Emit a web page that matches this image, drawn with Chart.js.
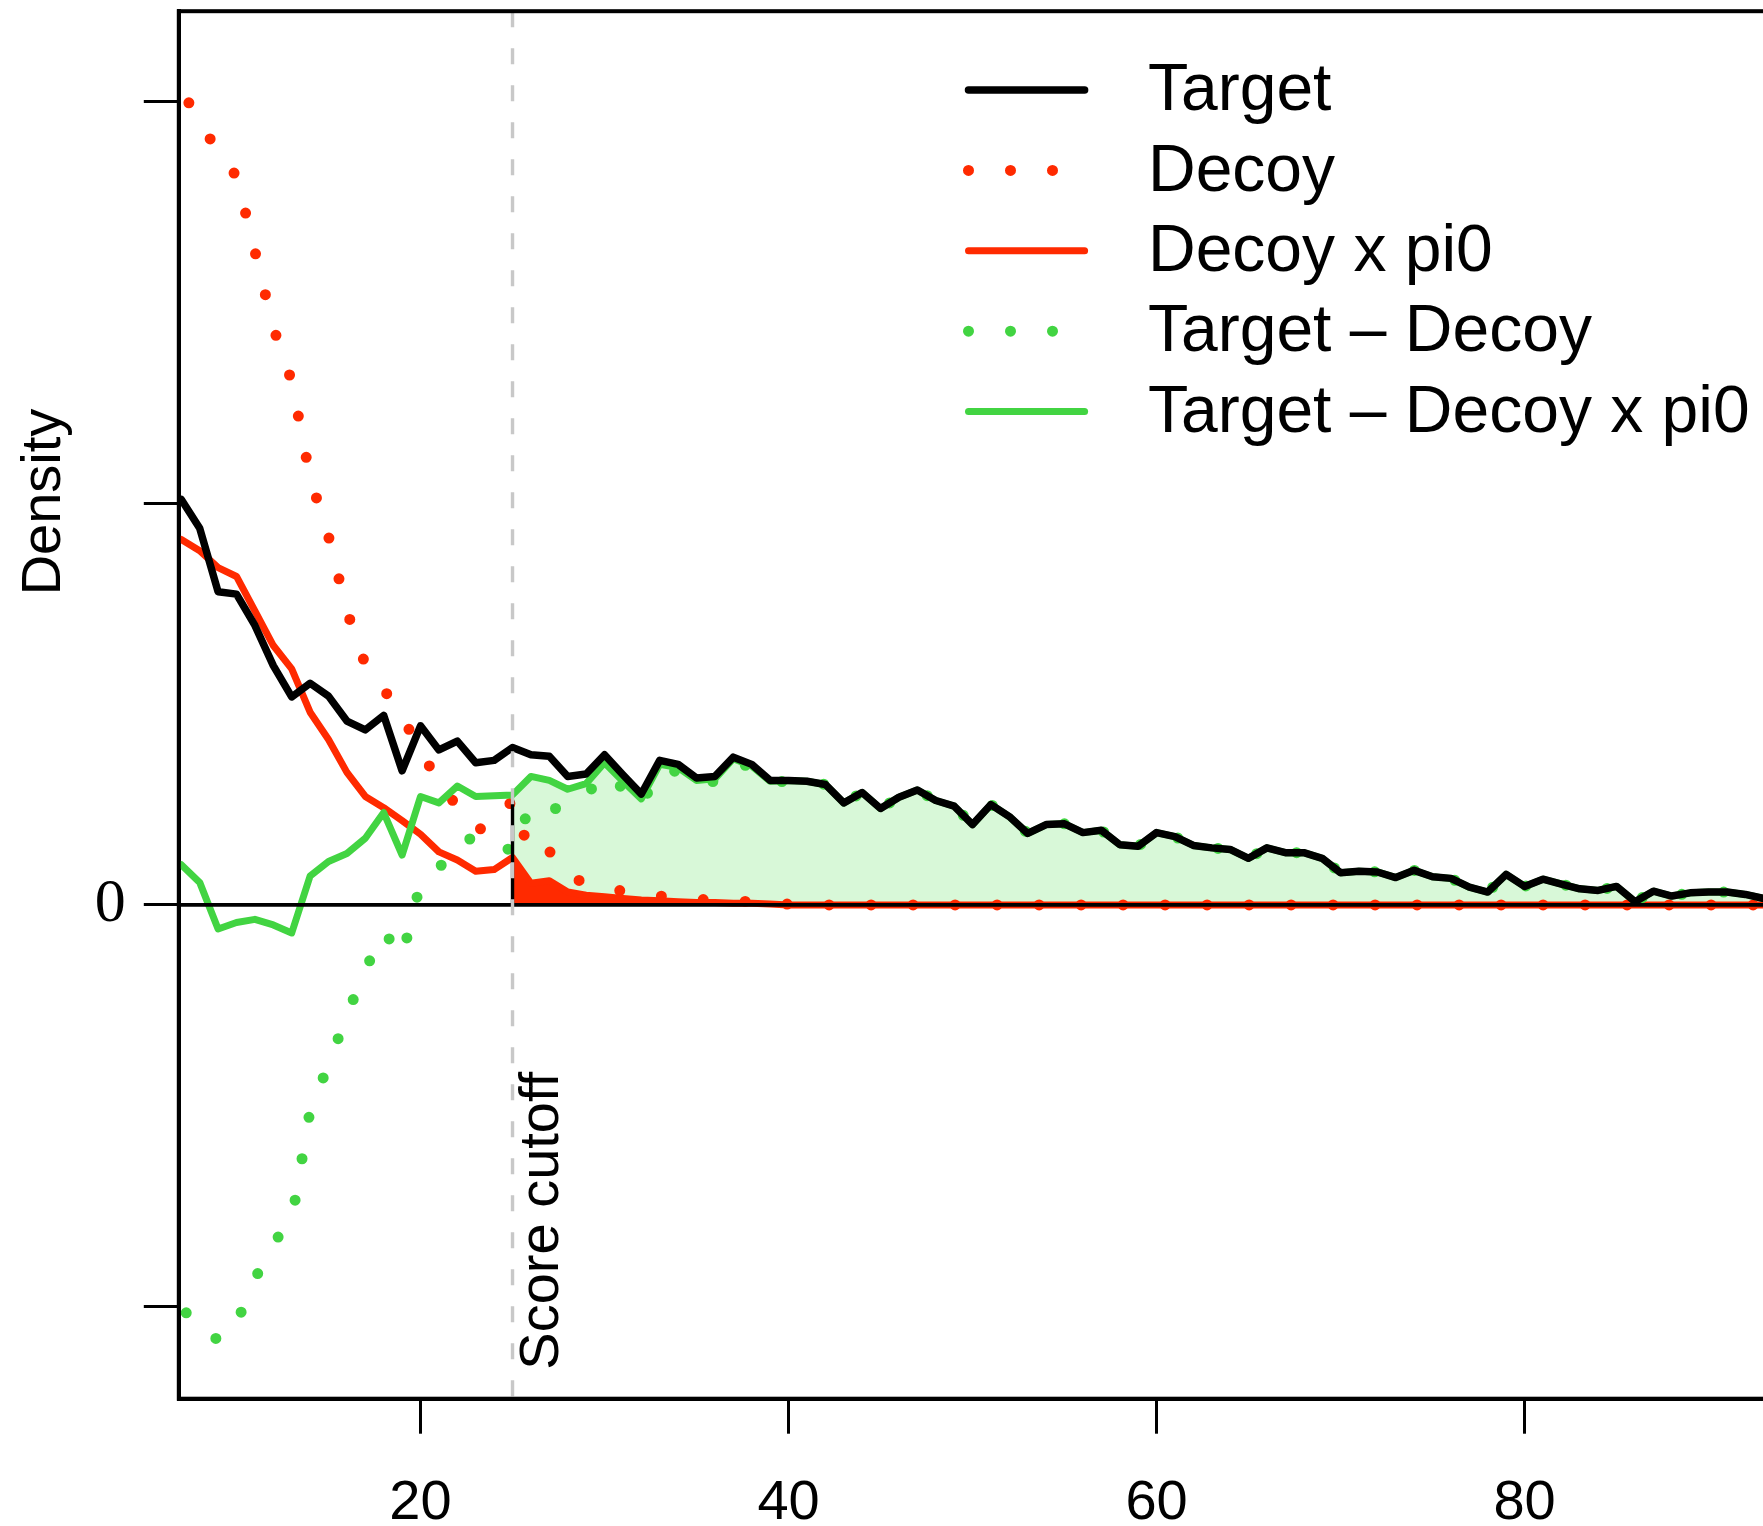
<!DOCTYPE html>
<html>
<head>
<meta charset="utf-8">
<title>Target / Decoy score densities</title>
<script src="https://cdn.jsdelivr.net/npm/chart.js@4.4.1/dist/chart.umd.min.js"></script>
<style>
  html, body { margin: 0; padding: 0; background: #fff; overflow: hidden; }
  canvas { display: block; }
</style>
</head>
<body>
<canvas id="densityChart" width="1800" height="1526"></canvas>
<script>
const ctx = document.getElementById('densityChart').getContext('2d');

// Scores (x axis)
const scores = [7, 8, 9, 10, 11, 12, 13, 14, 15, 16, 17, 18, 19, 20, 21, 22, 23, 24, 25, 26,
  27, 28, 29, 30, 31, 32, 33, 34, 35, 36, 37, 38, 39, 40, 41, 42, 43, 44, 45, 46,
  47, 48, 49, 50, 51, 52, 53, 54, 55, 56, 57, 58, 59, 60, 61, 62, 63, 64, 65, 66,
  67, 68, 69, 70, 71, 72, 73, 74, 75, 76, 77, 78, 79, 80, 81, 82, 83, 84, 85, 86,
  87, 88, 89, 90, 91, 92, 93];

// Densities per score
const target = [0.0505, 0.0469, 0.0390, 0.0387, 0.0348, 0.0298, 0.0259, 0.0276, 0.0260, 0.0229,
  0.0218, 0.0236, 0.0167, 0.0223, 0.0193, 0.0204, 0.0177, 0.0180, 0.0196, 0.0187,
  0.0185, 0.0160, 0.0163, 0.0187, 0.0162, 0.0138, 0.0180, 0.0175, 0.0158, 0.0160,
  0.0184, 0.0175, 0.0155, 0.0155, 0.0154, 0.0150, 0.0127, 0.0140, 0.0120, 0.0134,
  0.0143, 0.0130, 0.0123, 0.0100, 0.0125, 0.0110, 0.0089, 0.0100, 0.0101, 0.0090,
  0.0093, 0.0075, 0.0073, 0.0090, 0.0085, 0.0074, 0.0071, 0.0069, 0.0058, 0.0071,
  0.0065, 0.0065, 0.0058, 0.0040, 0.0042, 0.0041, 0.0034, 0.0043, 0.0035, 0.0033,
  0.0022, 0.0016, 0.0038, 0.0023, 0.0032, 0.0026, 0.0020, 0.0018, 0.0023, 0.0004,
  0.0017, 0.0011, 0.0015, 0.0016, 0.0016, 0.0013, 0.0008];

const decoy = [0.1012, 0.0980, 0.0934, 0.0908, 0.0814, 0.0719, 0.0652, 0.0532, 0.0459, 0.0366,
  0.0299, 0.0269, 0.0232, 0.0196, 0.0148, 0.0124, 0.0094, 0.0097, 0.0131, 0.0061,
  0.0067, 0.0036, 0.0027, 0.0022, 0.0017, 0.0014, 0.0011, 0.0009, 0.0007, 0.0006,
  0.0005, 0.0004, 0.0002, 0.0001, 0, 0, 0, 0, 0, 0,
  0, 0, 0, 0, 0, 0, 0, 0, 0, 0,
  0, 0, 0, 0, 0, 0, 0, 0, 0, 0,
  0, 0, 0, 0, 0, 0, 0, 0, 0, 0,
  0, 0, 0, 0, 0, 0, 0, 0, 0, 0,
  0, 0, 0, 0, 0, 0, 0];

const decoyPi0 = [0.0455, 0.0441, 0.0420, 0.0409, 0.0366, 0.0323, 0.0294, 0.0240, 0.0206, 0.0165,
  0.0135, 0.0121, 0.0105, 0.0088, 0.0066, 0.0056, 0.0042, 0.0044, 0.0059, 0.0027,
  0.0030, 0.0016, 0.0012, 0.0010, 0.0008, 0.0006, 0.0005, 0.0004, 0.0003, 0.0003,
  0.0002, 0.0002, 0.0001, 0, 0, 0, 0, 0, 0, 0,
  0, 0, 0, 0, 0, 0, 0, 0, 0, 0,
  0, 0, 0, 0, 0, 0, 0, 0, 0, 0,
  0, 0, 0, 0, 0, 0, 0, 0, 0, 0,
  0, 0, 0, 0, 0, 0, 0, 0, 0, 0,
  0, 0, 0, 0, 0, 0, 0];

const targetMinusDecoy = [-0.0507, -0.0511, -0.0544, -0.0521, -0.0466, -0.0421, -0.0393, -0.0256, -0.0199, -0.0137,
  -0.0081, -0.0033, -0.0065, 0.0027, 0.0045, 0.0080, 0.0083, 0.0083, 0.0065, 0.0126,
  0.0118, 0.0124, 0.0136, 0.0165, 0.0145, 0.0124, 0.0169, 0.0166, 0.0151, 0.0154,
  0.0179, 0.0171, 0.0153, 0.0154, 0.0154, 0.0150, 0.0127, 0.0140, 0.0120, 0.0134,
  0.0143, 0.0130, 0.0123, 0.0100, 0.0125, 0.0110, 0.0089, 0.0100, 0.0101, 0.0090,
  0.0093, 0.0075, 0.0073, 0.0090, 0.0085, 0.0074, 0.0071, 0.0069, 0.0058, 0.0071,
  0.0065, 0.0065, 0.0058, 0.0040, 0.0042, 0.0041, 0.0034, 0.0043, 0.0035, 0.0033,
  0.0022, 0.0016, 0.0038, 0.0023, 0.0032, 0.0026, 0.0020, 0.0018, 0.0023, 0.0004,
  0.0017, 0.0011, 0.0015, 0.0016, 0.0016, 0.0013, 0.0008];

const targetMinusDecoyPi0 = [0.0050, 0.0028, -0.0030, -0.0022, -0.0018, -0.0025, -0.0035, 0.0036, 0.0054, 0.0064,
  0.0083, 0.0115, 0.0062, 0.0135, 0.0127, 0.0148, 0.0135, 0.0136, 0.0137, 0.0160,
  0.0155, 0.0144, 0.0151, 0.0177, 0.0154, 0.0132, 0.0175, 0.0171, 0.0155, 0.0157,
  0.0182, 0.0173, 0.0154, 0.0155, 0.0154, 0.0150, 0.0127, 0.0140, 0.0120, 0.0134,
  0.0143, 0.0130, 0.0123, 0.0100, 0.0125, 0.0110, 0.0089, 0.0100, 0.0101, 0.0090,
  0.0093, 0.0075, 0.0073, 0.0090, 0.0085, 0.0074, 0.0071, 0.0069, 0.0058, 0.0071,
  0.0065, 0.0065, 0.0058, 0.0040, 0.0042, 0.0041, 0.0034, 0.0043, 0.0035, 0.0033,
  0.0022, 0.0016, 0.0038, 0.0023, 0.0032, 0.0026, 0.0020, 0.0018, 0.0023, 0.0004,
  0.0017, 0.0011, 0.0015, 0.0016, 0.0016, 0.0013, 0.0008];

const scoreCutoff = 25;

// Axis ticks
const scoreTicks = [20, 40, 60, 80];
const densityTicks = [-0.05, 0, 0.05, 0.1];

// Legend entries, top to bottom
const legendLabels = ['Target', 'Decoy', 'Decoy x pi0', 'Target \u2013 Decoy', 'Target \u2013 Decoy x pi0'];

const RED = '#ff2a00';
const GREEN = '#42d442';
const SANS = "'Liberation Sans', Arial, Helvetica, sans-serif";
const SERIF = "'Liberation Serif', 'Times New Roman', serif";

const toPoints = ys => scores.map((x, i) => ({ x: x, y: ys[i] }));
const fromCutoff = ys => toPoints(ys).filter(p => p.x >= scoreCutoff);

const solid = { borderWidth: 7, borderCapStyle: 'round', borderJoinStyle: 'round' };
const dotted = { borderWidth: 11, borderDash: [0, 42], borderCapStyle: 'round', borderJoinStyle: 'round' };

// Overlays: zero line, cutoff marker, frame, labels and legend
const overlays = {
  id: 'overlays',
  afterDatasetsDraw(chart) {
    const { ctx, chartArea: a, scales: { x, y } } = chart;
    const y0 = y.getPixelForValue(0);
    const xc = x.getPixelForValue(scoreCutoff);
    ctx.save();
    ctx.strokeStyle = '#000';
    ctx.lineWidth = 3.6;
    ctx.beginPath();
    ctx.moveTo(a.left, y0);
    ctx.lineTo(a.right, y0);
    ctx.stroke();

    // left edge of the shaded region
    ctx.lineWidth = 3.4;
    ctx.beginPath();
    ctx.moveTo(xc, y0);
    ctx.lineTo(xc, y.getPixelForValue(decoy[scores.indexOf(scoreCutoff)]));
    ctx.stroke();

    ctx.strokeStyle = '#c8c8c8';
    ctx.lineWidth = 3.4;
    ctx.setLineDash([16, 21]);
    ctx.beginPath();
    ctx.moveTo(xc, a.top);
    ctx.lineTo(xc, a.bottom);
    ctx.stroke();
    ctx.restore();
  },
  afterDraw(chart) {
    const { ctx, chartArea: a, scales: { x } } = chart;
    const xc = x.getPixelForValue(scoreCutoff);
    ctx.save();
    ctx.strokeStyle = '#000';
    ctx.lineWidth = 4;
    ctx.strokeRect(a.left, a.top, a.right - a.left, a.bottom - a.top);

    ctx.fillStyle = '#000';
    ctx.font = '56px ' + SANS;

    // y axis title
    ctx.save();
    ctx.translate(45, 502);
    ctx.rotate(-Math.PI / 2);
    ctx.textAlign = 'center';
    ctx.textBaseline = 'middle';
    ctx.fillText('Density', 0, 0);
    ctx.restore();

    ctx.save();
    ctx.translate(xc + 45, a.bottom - 29);
    ctx.rotate(-Math.PI / 2);
    ctx.textAlign = 'left';
    ctx.textBaseline = 'alphabetic';
    ctx.fillText('Score cutoff', 0, 0);
    ctx.restore();

    // legend
    const x0 = 968.5, x1 = 1084.6, textX = 1148, top = 90, step = 80.4;
    ctx.font = '66px ' + SANS;
    ctx.textAlign = 'left';
    ctx.textBaseline = 'middle';
    legendLabels.forEach((label, i) => {
      const ds = chart.data.datasets.find(d => d.label === label);
      const ly = top + i * step;
      ctx.strokeStyle = ds.borderColor;
      ctx.lineWidth = ds.borderWidth;
      ctx.lineCap = 'round';
      ctx.setLineDash(ds.borderDash || []);
      ctx.lineDashOffset = 0;
      ctx.beginPath();
      ctx.moveTo(x0, ly);
      ctx.lineTo(x1, ly);
      ctx.stroke();
      ctx.fillText(label, textX, ly + 2);
    });
    ctx.restore();
  }
};

const chart = new Chart(ctx, {
  type: 'line',
  data: {
    datasets: [
      { label: 'Target', data: toPoints(target), borderColor: '#000', ...solid, borderWidth: 7.5, order: 1 },
      { label: 'Target \u2013 Decoy x pi0', data: toPoints(targetMinusDecoyPi0), borderColor: GREEN, ...solid, order: 2 },
      { label: 'Target \u2013 Decoy', data: toPoints(targetMinusDecoy), borderColor: GREEN, ...dotted, borderDashOffset: 37, order: 3 },
      { label: 'Decoy x pi0', data: toPoints(decoyPi0), borderColor: RED, ...solid, order: 4 },
      { label: 'Decoy', data: toPoints(decoy), borderColor: RED, ...dotted, borderDashOffset: 29, order: 5 },
      // shaded areas right of the cutoff
      { data: fromCutoff(decoyPi0), borderWidth: 0, borderColor: 'rgba(0,0,0,0)', backgroundColor: RED, fill: 'origin', order: 6 },
      { data: fromCutoff(targetMinusDecoyPi0), borderWidth: 0, borderColor: 'rgba(0,0,0,0)', backgroundColor: '#d8f8d8', fill: 'origin', order: 7 }
    ]
  },
  options: {
    responsive: false,
    animation: false,
    devicePixelRatio: 1,
    layout: { padding: { top: 11.2, left: 0, right: 0, bottom: 0 } },
    elements: { point: { radius: 0, hoverRadius: 0 }, line: { tension: 0 } },
    plugins: {
      legend: { display: false },
      tooltip: { enabled: false },
      title: { display: false }
    },
    scales: {
      x: {
        type: 'linear',
        min: 6.864,
        max: 94.97,
        afterBuildTicks: s => { s.ticks = scoreTicks.map(v => ({ value: v })); },
        afterFit: s => { s.height = 127.3; s.paddingLeft = 0; s.paddingRight = 0; },
        border: { display: true, color: '#000', width: 4 },
        grid: { display: true, drawOnChartArea: false, drawTicks: true, tickLength: 35, tickColor: '#000', tickWidth: 3 },
        ticks: { autoSkip: false, maxRotation: 0, color: '#000', padding: 36, font: { family: SANS, size: 56 } }
      },
      y: {
        type: 'linear',
        min: -0.0615,
        max: 0.1113,
        afterBuildTicks: s => { s.ticks = densityTicks.map(v => ({ value: v })); },
        afterFit: s => { s.width = 178.8; s.paddingTop = 0; s.paddingBottom = 0; },
        border: { display: true, color: '#000', width: 4 },
        grid: { display: true, drawOnChartArea: false, drawTicks: true, tickLength: 35, tickColor: '#000', tickWidth: 3 },
        ticks: {
          autoSkip: false,
          color: '#000',
          padding: 18,
          font: { family: SERIF, size: 62 },
          callback: v => (v === 0 ? '0' : '')
        }
      }
    }
  },
  plugins: [overlays]
});
</script>
</body>
</html>
